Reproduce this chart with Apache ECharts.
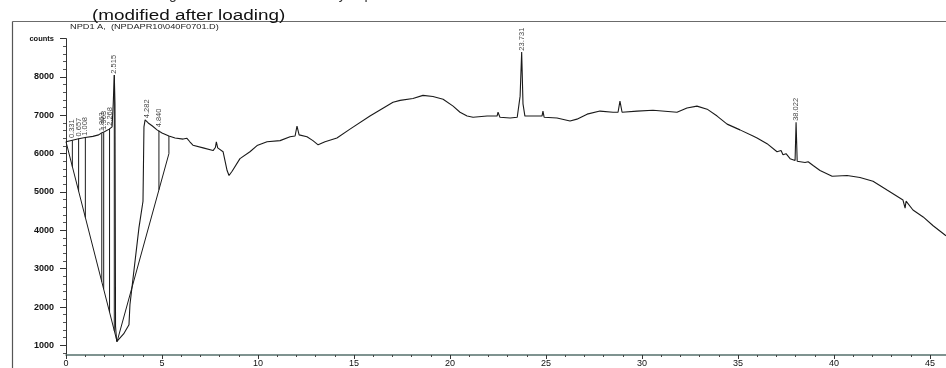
<!DOCTYPE html>
<html>
<head>
<meta charset="utf-8">
<script src="https://cdn.jsdelivr.net/npm/echarts@6/dist/echarts.min.js"></script>
<style>
  html, body { margin: 0; padding: 0; background: #fff; }
  #chart { width: 946px; height: 368px; }
</style>
</head>
<body>
<div id="chart"></div>
<script>
// trace (time in min, signal in counts)
const traceTime = [
  0, 0.33, 0.66, 1.0, 1.4, 1.7, 1.85, 2.0, 2.25, 2.4, 2.46, 2.515, 2.55, 2.58, 2.64,
  3.0, 3.28, 3.33, 3.8, 4.01, 4.06, 4.12, 4.282, 4.5, 4.74, 5.0, 5.36, 5.68, 6.1, 6.3,
  6.45, 6.61, 7.14, 7.66, 7.78, 7.83, 7.9, 8.18, 8.39, 8.49, 8.65, 9.06, 9.58, 9.95,
  10.47, 11.15, 11.67, 11.93, 12.03, 12.14, 12.55, 12.86, 13.13, 13.49, 14.11, 14.79,
  15.83, 17.03, 17.4, 18.07, 18.59, 19.11, 19.64, 20.16, 20.52, 20.89, 21.2, 21.93,
  22.45, 22.5, 22.6, 23.13, 23.5, 23.65, 23.731, 23.8, 23.9, 24.32, 24.79, 24.84, 24.9,
  25.57, 26.25, 26.61, 27.14, 27.81, 28.49, 28.75, 28.85, 28.96, 29.74, 30.57, 31.82,
  32.34, 32.86, 33.39, 33.91, 34.43, 35.1, 35.78, 35.99, 36.51, 37.03, 37.24, 37.34,
  37.5, 37.71, 37.97, 38.022, 38.08, 38.13, 38.49, 38.65, 38.91, 39.27, 39.9, 40.68,
  41.35, 42.03, 42.76, 43.59, 43.7, 43.75, 44.11, 44.64, 45.16, 45.83
]
const traceCounts = [
  6310, 6350, 6390, 6420, 6450, 6490, 6540, 6570, 6640, 6700, 7300, 8050, 7300, 1500, 1100,
  1300, 1540, 2060, 4070, 4760, 6700, 6880, 6800, 6720, 6620, 6540, 6460, 6410, 6380, 6400,
  6310, 6220, 6150, 6080, 6160, 6310, 6150, 6050, 5560, 5430, 5540, 5870, 6050, 6210,
  6310, 6340, 6440, 6460, 6720, 6490, 6440, 6340, 6230, 6310, 6410, 6640,
  6980, 7340, 7390, 7440, 7520, 7490, 7420, 7240, 7080, 6980, 6950, 6980,
  6980, 7080, 6950, 6930, 6950, 7500, 8650, 7300, 6980, 6980, 6980, 7110, 6950,
  6930, 6850, 6900, 7030, 7110, 7080, 7080, 7370, 7080, 7110, 7130, 7080,
  7190, 7240, 7160, 6980, 6770, 6620, 6460, 6410, 6260, 6050, 6080, 5970,
  6000, 5870, 5820, 6820, 5800, 5790, 5770, 5790, 5690, 5560, 5410, 5430,
  5380, 5280, 5050, 4790, 4580, 4760, 4530, 4350, 4120, 3860
]

// integrator baselines
const baseLeftTime = [0, 2.66]
const baseLeftCounts = [6310, 1100]
const baseRightTime = [2.66, 5.36, 5.36]
const baseRightCounts = [1100, 6000, 6460]

// drop lines from the peaks down to the baseline
const dropTime = [0.331, 0.657, 1.008, 1.863, 1.963, 2.268, 2.515, 4.84]
const dropTop = [6350, 6395, 6420, 6530, 6555, 6650, 8050, 6600]
const dropBottom = [5660, 5020, 4335, 2660, 2465, 1870, 1380, 5060]

// retention time labels
const peakNames = ['0.331', '0.657', '1.008', '1.863', '1.963', '2.268', '2.515', '4.282', '4.840', '23.731', '38.022']
const peakTime = [0.331, 0.657, 1.008, 1.863, 1.963, 2.268, 2.515, 4.2, 4.84, 23.731, 38.022]
const peakTop = [6380, 6420, 6440, 6560, 6600, 6700, 8060, 6900, 6660, 8660, 6830]

// axis ticks
const xMajor = [0, 5, 10, 15, 20, 25, 30, 35, 40, 45]
const xMinor = []
for (let i = 1; i <= 45; i++) if (i % 5) xMinor.push(i)
const yMajor = [1000, 2000, 3000, 4000, 5000, 6000, 7000, 8000, 9000]
const yMinor = []
for (let v = 800; v <= 9000; v += 200) if (v % 1000) yMinor.push(v)

const chart = echarts.init(document.getElementById('chart'))

const ink = '#1a1a1a'
const xMax = 45.83
const yMin = 750
const yMax = 9000

const lineSeries = (name, xs, ys, width) => ({
  name,
  type: 'line',
  xAxisIndex: 0,
  yAxisIndex: 0,
  showSymbol: false,
  silent: true,
  lineStyle: { color: ink, width },
  data: xs.map((t, i) => [t, ys[i]])
})

const series = [
  lineSeries('trace', traceTime, traceCounts, 1.1),
  lineSeries('baseLeft', baseLeftTime, baseLeftCounts, 1),
  lineSeries('baseRight', baseRightTime, baseRightCounts, 1)
]
dropTime.forEach((t, i) => {
  series.push(lineSeries('drop' + i, [t, t], [dropTop[i], dropBottom[i]], 1))
})
series.push({
  name: 'labels',
  type: 'scatter',
  symbolSize: 0,
  silent: true,
  data: peakTime.map((t, i) => ({ value: [t, peakTop[i]], name: peakNames[i] })),
  label: {
    show: true,
    formatter: '{b}',
    position: 'top',
    distance: 1,
    rotate: 90,
    align: 'left',
    verticalAlign: 'middle',
    fontSize: 7.5,
    fontFamily: '"Liberation Sans Narrow", "Liberation Sans", sans-serif',
    color: '#111'
  }
})

const option = {
  animation: false,
  backgroundColor: '#fff',
  grid: { left: 66, right: 0, top: 38.6, bottom: 9.3 },
  xAxis: [
    {
      type: 'value',
      position: 'bottom',
      min: 0,
      max: xMax,
      axisLine: { lineStyle: { color: '#56706c', width: 1.5 } },
      axisTick: { customValues: xMajor, length: 4, lineStyle: { color: '#333' } },
      axisLabel: { customValues: xMajor, margin: 4, fontSize: 9, color: '#111', fontFamily: '"Liberation Sans", sans-serif' },
      splitLine: { show: false }
    },
    {
      type: 'value',
      position: 'bottom',
      min: 0,
      max: xMax,
      axisLine: { show: false },
      axisTick: { customValues: xMinor, length: 2, lineStyle: { color: '#444' } },
      axisLabel: { show: false },
      splitLine: { show: false }
    }
  ],
  yAxis: [
    {
      type: 'value',
      position: 'left',
      min: yMin,
      max: yMax,
      axisLine: { show: true, lineStyle: { color: '#333', width: 1 } },
      axisTick: { customValues: yMajor, length: 6, lineStyle: { color: '#333' } },
      axisLabel: {
        customValues: yMajor,
        margin: 12,
        fontSize: 9,
        fontWeight: 'bold',
        color: '#111',
        fontFamily: '"Liberation Sans", sans-serif',
        formatter: v => (v === 9000 ? '{c|counts}' : String(v)),
        rich: { c: { fontSize: 7.5, fontWeight: 'bold', fontFamily: '"Liberation Sans", sans-serif', color: '#111' } }
      },
      splitLine: { show: false }
    },
    {
      type: 'value',
      position: 'left',
      min: yMin,
      max: yMax,
      axisLine: { show: false },
      axisTick: { customValues: yMinor, length: 3, lineStyle: { color: '#555' } },
      axisLabel: { show: false },
      splitLine: { show: false }
    }
  ],
  graphic: [
    { type: 'line', silent: true, shape: { x1: 12.5, y1: 21.5, x2: 946, y2: 21.5 }, style: { stroke: '#6b6b6b', lineWidth: 1.2 } },
    { type: 'line', silent: true, shape: { x1: 12.5, y1: 21.5, x2: 12.5, y2: 368 }, style: { stroke: '#555', lineWidth: 1.2 } },
    {
      type: 'text', silent: true, x: 8, y: 2,
      style: {
        text: 'Peak Identification      Integration Events : Modified  by  Operator',
        fontSize: 14, fontFamily: '"Liberation Sans", sans-serif', fill: '#333', verticalAlign: 'bottom'
      }
    },
    {
      type: 'text', silent: true, x: 92, y: 23, scaleX: 1.35,
      style: {
        text: '(modified after loading)',
        fontSize: 14, fontFamily: '"Liberation Sans", sans-serif', fill: '#111', verticalAlign: 'bottom'
      }
    },
    {
      type: 'text', silent: true, x: 70, y: 26.5, scaleX: 1.15,
      style: {
        text: 'NPD1 A,  (NPDAPR10\\040F0701.D)',
        fontSize: 8, fontFamily: '"Liberation Sans", sans-serif', fill: '#222', verticalAlign: 'middle'
      }
    }
  ],
  series
}

chart.setOption(option)
</script>
</body>
</html>
